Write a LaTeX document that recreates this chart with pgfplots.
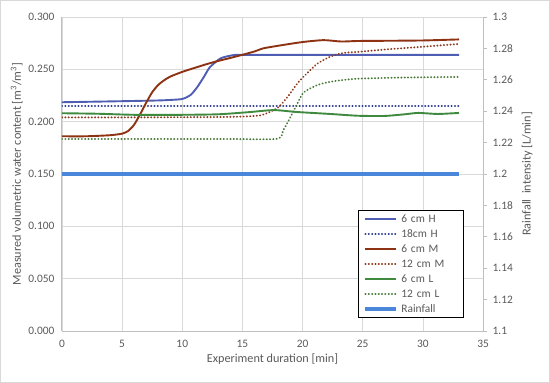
\documentclass[border=0pt]{standalone}
\usepackage{fontspec}
\setmainfont{Carlito}
\usepackage{pgfplots}
\pgfplotsset{compat=1.18}
\definecolor{tickgray}{HTML}{595959}
\definecolor{gridgray}{HTML}{D9D9D9}
\definecolor{axgray}{HTML}{BFBFBF}
\definecolor{cH}{HTML}{4F5DB3}
\definecolor{cHd}{HTML}{2E3D8F}
\definecolor{cM}{HTML}{8E3214}
\definecolor{cMd}{HTML}{8B3A1E}
\definecolor{cL}{HTML}{3F8A3F}
\definecolor{cLd}{HTML}{4A7A3A}
\definecolor{cR}{HTML}{4A86D9}
\tikzset{dotsty/.style={line cap=round, dash pattern=on 0.3pt off 3pt}}
\begin{document}
\begin{tikzpicture}[x=1pt,y=1pt]
\draw[gridgray, line width=0.8pt] (0.5,0.5) rectangle (549.5,382.5);
\begin{axis}[
  at={(62pt,52pt)}, anchor=south west,
  scale only axis, width=421pt, height=314pt,
  xmin=0, xmax=35, ymin=0, ymax=0.3,
  axis x line*=bottom, axis y line*=left,
  axis line style={draw=axgray, line width=1pt, -},
  xtick={0,5,...,35},
  ytick={0,0.05,0.1,0.15,0.2,0.25,0.3},
  yticklabels={0.000,0.050,0.100,0.150,0.200,0.250,0.300},
  grid=major, grid style={draw=gridgray, line width=0.8pt},
  major tick length=0pt,
  tick label style={font=\fontsize{11.4}{13}\selectfont, text=tickgray},
  /pgf/number format/assume math mode=true,
  xticklabel style={yshift=-6pt},
  yticklabel style={xshift=-4pt},
  label style={font=\fontsize{12.2}{14}\selectfont, text=tickgray},
  xlabel={Experiment duration [min]},
  ylabel={Measured volumetric water content [m\textsuperscript{3}/m\textsuperscript{3}]},
  xlabel style={yshift=1pt},
  ylabel style={yshift=-1pt},
  line join=round,
]
% 6 cm H
\addplot[cH, line width=1.9pt, smooth, tension=0.4] coordinates {
(0,0.2185)(5,0.2195)(8,0.2202)(9,0.2207)(10,0.2216)(10.7,0.2255)(11.25,0.233)(11.8,0.2427)(12.3,0.252)(13.2,0.2605)(14.25,0.2635)(15,0.2637)(20,0.2637)(25,0.2637)(30,0.2637)(33,0.2637)};
% 18cm H
\addplot[cHd, line width=1.9pt, dotsty] coordinates {
(0,0.2152)(10,0.2152)(20,0.2152)(33,0.2152)};
% 6 cm M
\addplot[cM, line width=1.9pt, smooth, tension=0.4] coordinates {
(0,0.186)(2,0.186)(4,0.187)(5,0.1885)(5.5,0.191)(6,0.197)(6.5,0.207)(7,0.218)(7.5,0.228)(8,0.235)(8.5,0.2395)(9,0.243)(10,0.2475)(11,0.2512)(12,0.2548)(13,0.258)(14,0.2608)(15,0.2638)(16,0.267)(16.75,0.2700)(18,0.2725)(20,0.2760)(21.75,0.2778)(23.2,0.2765)(24.6,0.2770)(27,0.2772)(30,0.2775)(33,0.2785)};
% 12 cm M
\addplot[cMd, line width=1.9pt, dotsty, smooth, tension=0.4] coordinates {
(0,0.2040)(5,0.2040)(10,0.2042)(14,0.2045)(16.5,0.2060)(17.9,0.2130)(18.75,0.2236)(19.6,0.2370)(20.4,0.2465)(21.25,0.2555)(22.3,0.2620)(23.4,0.2656)(24.6,0.2666)(27,0.2690)(30,0.2715)(33,0.2742)};
% 6 cm L
\addplot[cL, line width=1.9pt, smooth, tension=0.4] coordinates {
(0,0.2080)(3,0.2075)(6,0.2065)(10,0.2065)(13,0.2070)(15.5,0.2090)(17.6,0.2110)(19.5,0.2092)(22.3,0.2073)(24.6,0.2056)(26.8,0.2054)(28.5,0.2070)(29.6,0.2083)(31.25,0.2073)(33,0.2083)};
% 12 cm L
\addplot[cLd, line width=1.9pt, dotsty, smooth, tension=0.4] coordinates {
(0,0.1834)(5,0.1834)(10,0.1834)(14,0.1834)(17.9,0.1836)(18.4,0.1920)(19,0.2045)(19.6,0.2180)(20.1,0.2280)(21.25,0.2350)(22.3,0.2380)(23.4,0.2398)(24.6,0.2410)(28,0.2420)(33,0.2427)};
\end{axis}
\begin{axis}[
  at={(62pt,52pt)}, anchor=south west,
  scale only axis, width=421pt, height=314pt,
  xmin=0, xmax=35, ymin=1.1, ymax=1.3,
  axis x line=none, axis y line*=right,
  axis line style={draw=axgray, line width=1pt, -},
  ytick={1.1,1.12,1.14,1.16,1.18,1.2,1.22,1.24,1.26,1.28,1.3},
  yticklabels={1.1,1.12,1.14,1.16,1.18,1.2,1.22,1.24,1.26,1.28,1.3},
  tick align=outside, major tick length=4pt,
  ytick style={draw=axgray, line width=0.8pt},
  tick label style={font=\fontsize{11.4}{13}\selectfont, text=tickgray},
  /pgf/number format/assume math mode=true,
  yticklabel style={xshift=2pt},
  label style={font=\fontsize{12.2}{14}\selectfont, text=tickgray},
  ylabel={Rainfall\ \ intensity [L/min]},
  ylabel style={yshift=-2pt},
  legend cell align=left,
  legend image code/.code={\draw[#1] (0pt,0pt) -- (31pt,0pt);},
  legend style={at={(0.703,0.0414)}, anchor=south west,
    draw=black, line width=0.8pt, fill=white,
    font=\fontsize{11.4}{13}\selectfont, text=tickgray,
    inner xsep=5pt, inner ysep=1pt, row sep=0pt,
    nodes={inner ysep=2pt, text height=8.5pt, text depth=2.5pt},
    /tikz/column 2/.style={nodes={text width=54pt, inner xsep=3pt}}},
]
\addlegendimage{cH, line width=1.9pt}
\addlegendentry{6 cm H}
\addlegendimage{cHd, line width=1.9pt, dotsty}
\addlegendentry{18cm H}
\addlegendimage{cM, line width=1.9pt}
\addlegendentry{6 cm M}
\addlegendimage{cMd, line width=1.9pt, dotsty}
\addlegendentry{12 cm M}
\addlegendimage{cL, line width=1.9pt}
\addlegendentry{6 cm L}
\addlegendimage{cLd, line width=1.9pt, dotsty}
\addlegendentry{12 cm L}
\addplot[cR, line width=4pt] coordinates {(0,1.2)(10,1.2)(20,1.2)(33,1.2)};
\addlegendentry{Rainfall}
\end{axis}
\end{tikzpicture}
\end{document}
